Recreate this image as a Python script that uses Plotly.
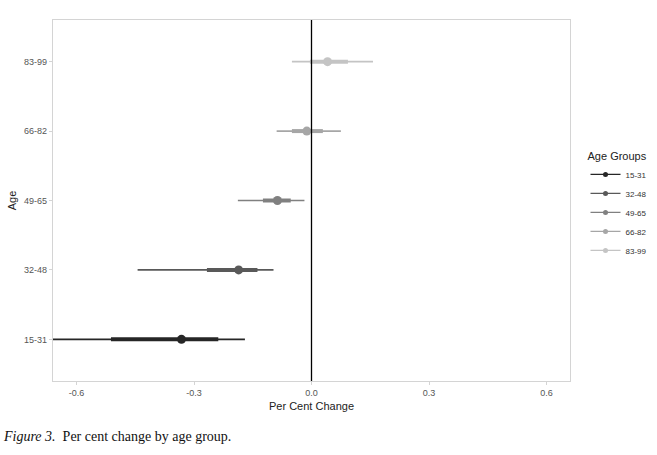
import plotly.graph_objects as go

groups = ["15-31", "32-48", "49-65", "66-82", "83-99"]
estimate = [-0.332, -0.186, -0.087, -0.012, 0.041]
inner_low = [-0.512, -0.267, -0.124, -0.050, -0.004]
inner_high = [-0.238, -0.138, -0.053, 0.029, 0.093]
outer_low = [-0.70, -0.444, -0.188, -0.089, -0.050]
outer_high = [-0.170, -0.097, -0.018, 0.075, 0.157]
colors = ["#262626", "#595959", "#808080", "#a6a6a6", "#c4c4c4"]
x_ticks = [-0.6, -0.3, 0.0, 0.3, 0.6]
x_tick_labels = ["-0.6", "-0.3", "0.0", "0.3", "0.6"]

fig = go.Figure()
for g, e, il, ih, ol, oh, c in zip(groups, estimate, inner_low, inner_high, outer_low, outer_high, colors):
    fig.add_trace(go.Scatter(x=[ol, oh], y=[g, g], mode="lines", line=dict(color=c, width=1.6),
                             showlegend=False, hoverinfo="skip"))
    fig.add_trace(go.Scatter(x=[il, ih], y=[g, g], mode="lines", line=dict(color=c, width=4),
                             showlegend=False, hoverinfo="skip"))
    fig.add_trace(go.Scatter(x=[e], y=[g], mode="markers", name=g, showlegend=False,
                             marker=dict(color=c, size=9)))
# legend-only entries (smaller glyphs, like the reference key)
for g, c in zip(groups, colors):
    fig.add_trace(go.Scatter(x=[None], y=[None], mode="lines+markers", name=g,
                             line=dict(color=c, width=1.3), marker=dict(color=c, size=5)))

fig.add_vline(x=0, line=dict(color="black", width=1.3))

fig.update_layout(
    width=657, height=455,
    margin=dict(l=53, r=87, t=20, b=74, autoexpand=False),
    paper_bgcolor="white", plot_bgcolor="white",
    font=dict(family="Liberation Sans, Arial, sans-serif", color="#222"),
    xaxis=dict(range=[-0.66, 0.66], tickvals=x_ticks, ticktext=x_tick_labels,
               automargin=False,
               showgrid=False, zeroline=False, showline=True, mirror=True,
               linecolor="#d4d4d4", linewidth=1.2, ticks="outside", ticklen=3,
               tickcolor="#d4d4d4", tickfont=dict(size=9, color="#555"),
               title=dict(text="Per Cent Change", font=dict(size=11, color="#222"), standoff=5)),
    yaxis=dict(type="category", categoryorder="array", categoryarray=groups,
               automargin=False,
               range=[-0.6, 4.6], showgrid=False, zeroline=False, showline=True, mirror=True,
               linecolor="#d4d4d4", linewidth=1.2, ticks="outside", ticklen=3,
               tickcolor="#d4d4d4", tickfont=dict(size=9, color="#555"),
               title=dict(text="Age", font=dict(size=11, color="#222"), standoff=5)),
    legend=dict(x=1.03, y=0.652, xanchor="left", yanchor="top",
                title=dict(text="Age Groups", font=dict(size=11, color="#222")),
                font=dict(size=8, color="#333"), itemwidth=30, tracegroupgap=0),
    annotations=[dict(text="<i>Figure 3.</i>&nbsp; Per cent change by age group.",
                      xref="paper", yref="paper", x=-0.1, y=-0.155, xanchor="left",
                      yanchor="middle", showarrow=False,
                      font=dict(family="Liberation Serif, Times New Roman, serif", size=14, color="#111"))],
)

page_css = ("document.documentElement.style.margin='0';document.documentElement.style.padding='0';"
            "document.documentElement.style.overflow='hidden';"
            "document.body.style.margin='0';document.body.style.padding='0';"
            "document.body.style.overflow='hidden';")
fig.write_html("out.html", post_script=page_css, config={"displayModeBar": False})
